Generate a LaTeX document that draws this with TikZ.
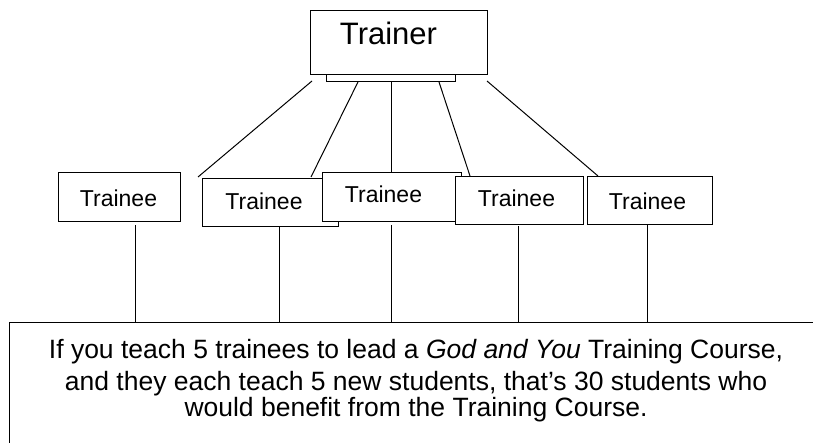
\documentclass[tikz,border=0pt]{standalone}
\usepackage{fontspec}
\setmainfont{Liberation Sans}
\usetikzlibrary{positioning,calc}

\tikzset{
	box/.style={rectangle,draw,fill=white,inner sep=0pt},
	lbl/.style={anchor=base,inner sep=0pt,font=\fontsize{23}{23}\selectfont},
	msg/.style={anchor=base,inner sep=0pt,font=\fontsize{26.5}{26.5}\selectfont}
}

\begin{document}
\begin{tikzpicture}[x=1pt,y=-1pt,line width=1pt]
	\useasboundingbox (0,0) rectangle (813,443);
	% trainer and its stand
	\node[box,minimum width=177pt,minimum height=64pt] (trainer) at (398.5,43) {};
	\node[anchor=base,inner sep=0pt,font=\fontsize{31}{31}\selectfont] (trainertxt) at (388.5,45) {Trainer};
	\node[box,minimum width=129pt,minimum height=7pt] (stand) at (390.5,78.5) {};

	% lines to the trainees
	\coordinate (s1) at (312,81);
	\coordinate (s2) at (358,82);
	\coordinate (s4) at (439,82);
	\coordinate (s5) at (487,81);
	\coordinate (f1) at (198,177);
	\coordinate (f2) at (311,177);
	\coordinate (f4) at (470,176);
	\coordinate (f5) at (598,176);
	\draw (s1) -- (f1);
	\draw (s2) -- (f2);
	\draw (s4) -- (f4);
	\draw (s5) -- (f5);

	% trainees
	\node[box,minimum width=122pt,minimum height=49pt] (t1) at (119,197.5) {};
	\node[lbl] (t1txt) at (118.5,207) {Trainee};
	\node[box,minimum width=136pt,minimum height=48pt] (t2) at (270,203) {};
	\node[lbl] (t2txt) at (264,210) {Trainee};
	\node[box,minimum width=139pt,minimum height=49pt] (t3) at (391.5,197.5) {};
	\node[lbl] (t3txt) at (383.5,203) {Trainee};
	\node[box,minimum width=128pt,minimum height=48pt] (t4) at (519,201) {};
	\node[lbl] (t4txt) at (516.5,207) {Trainee};
	\node[box,minimum width=125pt,minimum height=48pt] (t5) at (649.5,201) {};
	\node[lbl] (t5txt) at (647.5,210) {Trainee};
	\draw (t3.north |- stand.south) -- (t3.north);

	% bottom box
	\coordinate (tl) at (9,322);
	\coordinate (tr) at (813,322);
	\coordinate (bl) at (9,443);
	\draw (tr) -- (tl) -- (bl);
	\coordinate (d1) at (135,322);
	\coordinate (d2) at (279,322);
	\coordinate (d3) at (391,322);
	\coordinate (d4) at (518,322);
	\coordinate (d5) at (647,322);
	\draw[shorten <=3pt] (t1.south -| d1) -- (d1);
	\draw (t2.south -| d2) -- (d2);
	\draw[shorten <=3pt] (t3.south -| d3) -- (d3);
	\draw[shorten <=1pt] (t4.south -| d4) -- (d4);
	\draw (t5.south -| d5) -- (d5);

	\node[msg] (msg1) at (416,358) {If you teach 5 trainees to lead a \textit{God and You} Training Course,};
	\node[msg] (msg2) at (416,390) {and they each teach 5 new students, that’s 30 students who};
	\node[msg] (msg3) at (416,416) {would benefit from the Training Course.};
\end{tikzpicture}
\end{document}
